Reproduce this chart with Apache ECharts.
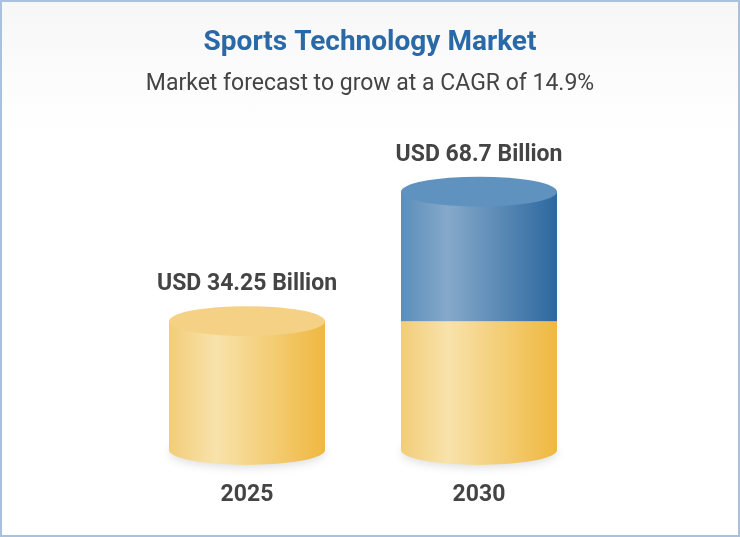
<!DOCTYPE html>
<html>
<head>
<meta charset="utf-8">
<script src="https://cdn.jsdelivr.net/npm/echarts@6/dist/echarts.min.js"></script>
<style>
  html, body { margin: 0; padding: 0; background: #fff; }
  #chart { width: 740px; height: 537px; box-sizing: border-box; border: 2px solid #a9c1dc;
    background: linear-gradient(#f7f7f7 0%, #ffffff 25%); }
</style>
</head>
<body>
<div id="chart"></div>
<script>
  const years = ["2025", "2030"];
  const baseValues = [34.25, 34.25];
  const growthValues = [null, 34.45];
  const totals = [34.25, 68.7];
  const labels = ["USD 34.25 Billion", "USD 68.7 Billion"];

  const chart = echarts.init(document.getElementById("chart"));
  const barW = 156;
  const grad = (a, b, c) => new echarts.graphic.LinearGradient(0, 0, 1, 0, [
    { offset: 0, color: a }, { offset: 0.3, color: b }, { offset: 1, color: c }
  ]);
  const yellow = grad("#f2cd78", "#f8e2ab", "#efb840");
  const blue = grad("#5a8ebb", "#86a9ca", "#2c689f");
  const labelStyle = { show: true, position: "top", distance: 25, fontSize: 23, fontWeight: "bold",
    color: "#444", fontFamily: "Roboto" };

  chart.setOption({
    title: {
      text: "Sports Technology Market",
      subtext: "Market forecast to grow at a CAGR of 14.9%",
      left: "center", top: 22, itemGap: 16,
      textStyle: { color: "#2a69a8", fontSize: 28, fontWeight: "bold", fontFamily: "Roboto" },
      subtextStyle: { color: "#444", fontSize: 23, fontFamily: "Roboto" }
    },
    grid: { left: 129, right: 143, top: 72, bottom: 85 },
    xAxis: {
      type: "category", data: years,
      axisLine: { show: false }, axisTick: { show: false },
      axisLabel: { margin: 34, fontSize: 23, fontWeight: "bold", color: "#444", fontFamily: "Roboto" }
    },
    yAxis: { type: "value", min: 0, max: 100, show: false },
    series: [
      {
        type: "pictorialBar", symbol: "circle", symbolSize: [barW, 30], symbolOffset: [0, "50%"],
        symbolPosition: "start", z: 1, data: totals,
        itemStyle: { color: yellow, shadowColor: "rgba(0,0,0,0.12)", shadowBlur: 8, shadowOffsetY: 3 }
      },
      {
        type: "bar", stack: "m", barWidth: barW, z: 2,
        itemStyle: { color: yellow },
        data: baseValues.map((v, i) => ({ value: v, label: growthValues[i] == null ? Object.assign({ formatter: labels[i] }, labelStyle) : { show: false } }))
      },
      {
        type: "bar", stack: "m", barWidth: barW, z: 2,
        itemStyle: { color: blue },
        data: growthValues.map((v, i) => ({ value: v, label: v == null ? { show: false } : Object.assign({ formatter: labels[i] }, labelStyle) }))
      },
      {
        type: "pictorialBar", symbol: "circle", symbolSize: [barW, 30], symbolOffset: [0, "-50%"],
        symbolPosition: "end", z: 3,
        data: totals.map((v, i) => ({ value: v, itemStyle: { color: growthValues[i] == null ? "#f4d184" : "#5f92be" } }))
      }
    ]
  });
</script>
</body>
</html>
